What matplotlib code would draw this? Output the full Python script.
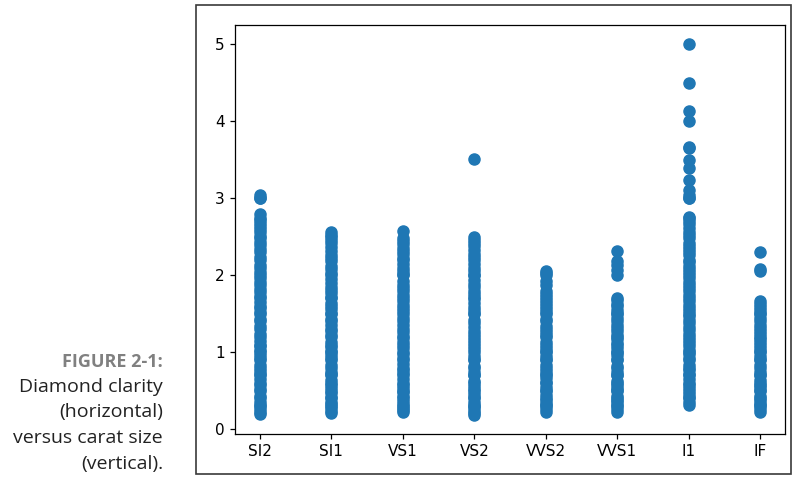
#!/usr/bin/env python3
"""Scatter of diamond clarity (categorical x) against carat size."""

import matplotlib
matplotlib.use('Agg')
import matplotlib.pyplot as plt
from matplotlib.patches import Rectangle

clarity = ['SI2', 'SI1', 'VS1', 'VS2', 'VVS2', 'VVS1', 'I1', 'IF']

# carat values, one list per clarity grade
carat_si2 = [0.2, 0.23, 0.26, 0.3, 0.32, 0.35, 0.4, 0.43, 0.5, 0.52, 0.57, 0.6,
             0.65, 0.7, 0.72, 0.76, 0.8, 0.84, 0.9, 0.93, 0.97, 1.0, 1.03, 1.08,
             1.1, 1.15, 1.2, 1.24, 1.3, 1.34, 1.4, 1.43, 1.5, 1.52, 1.57, 1.6,
             1.65, 1.7, 1.73, 1.78, 1.82, 1.87, 1.91, 1.96, 2.0, 2.04, 2.1, 2.14,
             2.2, 2.24, 2.3, 2.34, 2.4, 2.43, 2.48, 2.51, 2.56, 2.6, 2.64, 2.68,
             2.72, 2.75, 2.8, 3.0, 3.01, 3.04]
carat_si1 = [0.21, 0.24, 0.27, 0.3, 0.33, 0.36, 0.4, 0.42, 0.47, 0.5, 0.53, 0.57,
             0.6, 0.64, 0.7, 0.72, 0.75, 0.8, 0.83, 0.9, 0.92, 0.96, 1.0, 1.02,
             1.07, 1.1, 1.14, 1.2, 1.22, 1.27, 1.3, 1.35, 1.4, 1.43, 1.5, 1.51,
             1.56, 1.6, 1.64, 1.7, 1.72, 1.77, 1.81, 1.85, 1.9, 1.95, 2.0, 2.03,
             2.08, 2.12, 2.18, 2.22, 2.27, 2.32, 2.37, 2.42, 2.46, 2.5, 2.53,
             2.56]
carat_vs1 = [0.22, 0.25, 0.28, 0.3, 0.33, 0.37, 0.4, 0.43, 0.48, 0.5, 0.54, 0.58,
             0.6, 0.65, 0.7, 0.73, 0.77, 0.8, 0.85, 0.9, 0.93, 0.98, 1.01, 1.05,
             1.1, 1.13, 1.18, 1.21, 1.26, 1.3, 1.35, 1.4, 1.44, 1.5, 1.53, 1.57,
             1.61, 1.66, 1.7, 1.74, 1.79, 1.83, 1.88, 1.92, 2.0, 2.02, 2.06, 2.1,
             2.15, 2.2, 2.23, 2.28, 2.32, 2.36, 2.41, 2.45, 2.48, 2.58]
carat_vs2 = [0.18, 0.21, 0.24, 0.27, 0.3, 0.32, 0.36, 0.4, 0.42, 0.46, 0.5, 0.52,
             0.56, 0.6, 0.63, 0.7, 0.71, 0.75, 0.8, 0.82, 0.9, 0.91, 0.95, 1.0,
             1.04, 1.08, 1.12, 1.16, 1.2, 1.24, 1.28, 1.33, 1.38, 1.42, 1.5, 1.51,
             1.55, 1.59, 1.64, 1.69, 1.72, 1.76, 1.8, 1.85, 1.89, 1.94, 2.0, 2.01,
             2.06, 2.1, 2.15, 2.2, 2.24, 2.28, 2.33, 2.38, 2.42, 2.46, 2.5, 3.51]
carat_vvs2 = [0.23, 0.26, 0.3, 0.31, 0.34, 0.38, 0.4, 0.44, 0.5, 0.51, 0.55, 0.6,
              0.62, 0.66, 0.7, 0.72, 0.76, 0.8, 0.84, 0.9, 0.91, 0.95, 1.0, 1.02,
              1.06, 1.1, 1.14, 1.2, 1.22, 1.26, 1.3, 1.34, 1.4, 1.43, 1.5, 1.52,
              1.56, 1.6, 1.64, 1.68, 1.72, 1.76, 1.8, 1.87, 1.93, 2.0, 2.03, 2.06]
carat_vvs1 = [0.23, 0.26, 0.3, 0.31, 0.35, 0.38, 0.4, 0.43, 0.5, 0.51, 0.54, 0.58,
              0.6, 0.63, 0.7, 0.71, 0.75, 0.8, 0.82, 0.9, 0.91, 0.96, 1.0, 1.01,
              1.05, 1.1, 1.12, 1.17, 1.2, 1.23, 1.28, 1.31, 1.36, 1.4, 1.44, 1.5,
              1.51, 1.55, 1.6, 1.63, 1.68, 1.71, 2.01, 2.07, 2.14, 2.19, 2.31]
carat_i1 = [0.31, 0.35, 0.4, 0.42, 0.46, 0.5, 0.53, 0.57, 0.6, 0.65, 0.7, 0.72,
            0.77, 0.8, 0.84, 0.9, 0.93, 0.98, 1.0, 1.03, 1.08, 1.12, 1.16, 1.2,
            1.24, 1.29, 1.33, 1.38, 1.42, 1.47, 1.5, 1.54, 1.58, 1.62, 1.67, 1.7,
            1.74, 1.79, 1.83, 1.87, 1.91, 1.96, 2.0, 2.04, 2.08, 2.12, 2.17, 2.2,
            2.26, 2.3, 2.34, 2.38, 2.42, 2.48, 2.52, 2.56, 2.61, 2.66, 2.7, 2.74,
            2.76, 3.0, 3.01, 3.04, 3.11, 3.24, 3.4, 3.5, 3.65, 3.67, 4.0, 4.13,
            4.5, 5.01]
carat_if = [0.23, 0.26, 0.3, 0.31, 0.34, 0.38, 0.4, 0.43, 0.5, 0.51, 0.55, 0.58,
            0.6, 0.64, 0.7, 0.71, 0.75, 0.8, 0.83, 0.9, 0.91, 0.95, 1.0, 1.02,
            1.06, 1.1, 1.13, 1.17, 1.2, 1.24, 1.28, 1.32, 1.36, 1.4, 1.44, 1.5,
            1.51, 1.55, 1.59, 1.63, 1.67, 2.06, 2.08, 2.3]

carat_by_clarity = [carat_si2, carat_si1, carat_vs1, carat_vs2,
                    carat_vvs2, carat_vvs1, carat_i1, carat_if]

caption_head = 'FIGURE 2-1:'
caption_lines = ['Diamond clarity', '(horizontal)', 'versus carat size', '(vertical).']


def main():
    fig = plt.figure(figsize=(7.92, 4.79), dpi=100)

    # frame round the chart image
    fig.patches.append(Rectangle((196 / 792, 5 / 479), 595 / 792, 469 / 479,
                                 transform=fig.transFigure, fill=False,
                                 edgecolor='#3a3a3a', linewidth=1.2))

    ax = fig.add_axes([235 / 792, 45 / 479, 550 / 792, 409 / 479])
    xs, ys = [], []
    for name, vals in zip(clarity, carat_by_clarity):
        xs.extend([name] * len(vals))
        ys.extend(vals)
    ax.scatter(xs, ys, s=64, color='#1f77b4')

    ax.set_yticks([0, 1, 2, 3, 4, 5])
    ax.tick_params(labelsize=11, length=3.9, width=0.9)
    for sp in ax.spines.values():
        sp.set_linewidth(0.9)

    # caption on the left
    fig.text(163 / 792, 1 - 362 / 479, caption_head, ha='right', va='center',
             fontsize=13, fontweight='bold', color='#808080', family='Open Sans')
    for i, line in enumerate(caption_lines):
        fig.text(163 / 792, 1 - (387 + 25.5 * i) / 479, line, ha='right',
                 va='center', fontsize=14, color='#222222', family='Open Sans')

    fig.savefig('out.png', dpi=100)
    plt.close(fig)


if __name__ == '__main__':
    main()
